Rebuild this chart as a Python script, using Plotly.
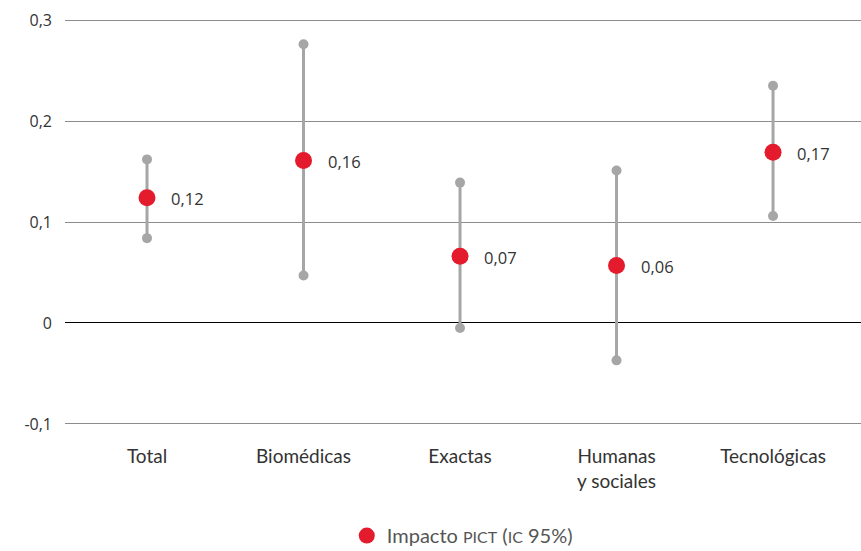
import plotly.graph_objects as go

# Impact estimates with 95% confidence intervals by area
categories = ["Total", "Biomédicas", "Exactas", "Humanas<br>y sociales", "Tecnológicas"]
impact = [0.124, 0.161, 0.066, 0.057, 0.169]
ci_low = [0.084, 0.047, -0.005, -0.037, 0.106]
ci_high = [0.162, 0.276, 0.139, 0.151, 0.235]
value_labels = ["0,12", "0,16", "0,07", "0,06", "0,17"]

y_ticks = [-0.1, 0, 0.1, 0.2, 0.3]
y_tick_text = ["-0,1", "0", "0,1", "0,2", "0,3"]

RED = "#e31b2c"
GREY = "#a6a6a6"
TEXT = "#333333"

# Confidence interval whiskers: one segment per category, separated by gaps
ci_x, ci_y = [], []
for c, lo, hi in zip(categories, ci_low, ci_high):
    ci_x += [c, c, None]
    ci_y += [lo, hi, None]

fig = go.Figure()
fig.add_trace(go.Scatter(
    x=ci_x, y=ci_y, mode="lines+markers",
    line=dict(color=GREY, width=3),
    marker=dict(color=GREY, size=10),
    showlegend=False, hoverinfo="skip", cliponaxis=False,
))
fig.add_trace(go.Scatter(
    x=categories, y=impact, mode="markers",
    marker=dict(color=RED, size=17),
    name='Impacto <span style="font-size:16px">PICT</span> (<span style="font-size:16px">IC</span> 95%)',
    cliponaxis=False,
))

for c, v, t in zip(categories, impact, value_labels):
    fig.add_annotation(
        x=c, y=v, text=t, showarrow=False,
        xanchor="left", yanchor="middle", xshift=22, yshift=-1,
        font=dict(family="Open Sans", size=16.5, color=TEXT),
    )

fig.update_layout(
    width=861, height=551,
    margin=dict(l=65, r=0, t=17, b=124),
    paper_bgcolor="white", plot_bgcolor="white",
    font=dict(family="Open Sans", color=TEXT),
    showlegend=True,
    legend=dict(
        orientation="h",
        xref="paper", x=0.354, xanchor="left",
        yref="container", y=0.028, yanchor="middle",
        font=dict(family="Lato", size=20, color="#555555"),
    ),
    xaxis=dict(
        type="category", range=[-0.524, 4.562],
        showgrid=False, zeroline=False, showline=False,
        ticks="", tickfont=dict(family="Lato", size=19, color=TEXT),
        ticklabelstandoff=16,
    ),
    yaxis=dict(
        range=[-0.103, 0.303],
        tickvals=y_ticks, ticktext=y_tick_text,
        showgrid=True, gridcolor="#8c8c8c", gridwidth=1,
        zeroline=True, zerolinecolor="#000000", zerolinewidth=1,
        showline=False, ticks="",
        tickfont=dict(family="Open Sans", size=16, color=TEXT),
        ticklabelstandoff=12,
    ),
)

fig.write_html("out.html")
